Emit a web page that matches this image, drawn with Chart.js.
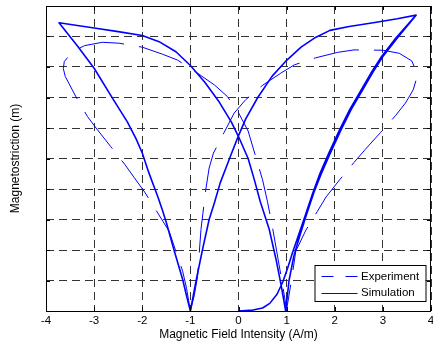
<!DOCTYPE html>
<html><head><meta charset="utf-8">
<script src="https://cdn.jsdelivr.net/npm/chart.js@4.4.1/dist/chart.umd.min.js"></script>
<style>html,body{margin:0;padding:0;background:#fff;overflow:hidden}#wrap{width:433px;height:347px;position:relative}</style>
</head><body><div id="wrap"><canvas id="c" width="433" height="347"></canvas></div>
<script>
// ---- tick labels ----
const xTickValues = [-4, -3, -2, -1, 0, 1, 2, 3, 4];
const xTickLabels = ['-4', '-3', '-2', '-1', '0', '1', '2', '3', '4'];
const seriesLabels = ['Experiment', 'Simulation'];

// ---- Simulation (solid) : field H (A/m) and strain (arbitrary units 0..10) ----
const simVirginH = [0, 0.3, 0.5, 0.65, 0.8, 0.92, 1.02, 1.12, 1.25, 1.39, 1.54, 1.69, 1.87, 2.1, 2.31, 2.55, 2.77, 2.97, 3.27, 3.69];
const simVirginS = [0, 0.03, 0.1, 0.25, 0.55, 0.95, 1.4, 1.9, 2.5, 3.15, 3.85, 4.5, 5.15, 5.94, 6.6, 7.25, 7.85, 8.34, 8.95, 9.7];
const simDownH = [3.69, 3.3, 2.8, 2.3, 1.9, 1.6, 1.3, 1.0, 0.7, 0.4, 0.15, 0, -0.15, -0.38, -0.5, -0.61, -0.75, -0.88, -1.0];
const simDownS = [9.7, 9.58, 9.45, 9.33, 9.2, 8.97, 8.65, 8.22, 7.7, 7.0, 6.3, 5.75, 5.15, 4.2, 3.55, 3.0, 2.0, 1.0, 0];
const simLeftUpH = [-1.0, -1.08, -1.16, -1.34, -1.5, -1.58, -1.68, -1.86, -2.0, -2.13, -2.31, -2.62, -3.0, -3.35, -3.73];
const simLeftUpS = [0, 0.5, 1.03, 2.0, 2.9, 3.3, 3.76, 4.52, 5.18, 5.65, 6.2, 6.98, 7.96, 8.7, 9.45];
const simUpH = [-3.73, -3.0, -2.5, -2.0, -1.65, -1.3, -1.0, -0.7, -0.4, -0.15, 0, 0.2, 0.33, 0.45, 0.64, 0.78, 0.88, 0.98];
const simUpS = [9.45, 9.28, 9.16, 9.03, 8.83, 8.5, 8.05, 7.5, 6.85, 6.2, 5.72, 5.0, 4.3, 3.6, 2.67, 1.69, 0.9, 0];
const simRightUpH = [0.98, 1.05, 1.15, 1.28, 1.42, 1.57, 1.72, 1.9, 2.13, 2.34, 2.58, 2.8, 3.0, 3.3, 3.69];
const simRightUpS = [0, 1.0, 1.8, 2.5, 3.2, 3.9, 4.5, 5.15, 5.94, 6.6, 7.25, 7.85, 8.34, 8.95, 9.7];

// ---- Experiment (dashed) ----
const expLeftH = [-1.0, -1.08, -1.16, -1.3, -1.44, -1.72, -1.95, -2.17, -2.36, -2.66, -2.96, -3.14, -3.37, -3.6, -3.64, -3.62, -3.45, -3.2, -2.83, -2.48, -2.0, -1.58, -1.27, -0.9, -0.5, -0.23, 0.0, 0.2, 0.35, 0.5, 0.6, 0.7, 0.8, 0.9, 1.0];
const expLeftS = [0, 0.75, 1.3, 1.95, 2.61, 3.32, 3.9, 4.38, 4.8, 5.4, 6.0, 6.38, 7.0, 7.69, 7.95, 8.18, 8.5, 8.7, 8.81, 8.78, 8.65, 8.42, 8.23, 7.85, 7.41, 7.03, 6.5, 5.9, 5.1, 4.3, 3.6, 2.8, 1.9, 1.0, 0.05];
const expRightH = [1.0, 1.1, 1.19, 1.4, 1.64, 1.82, 2.1, 2.4, 2.63, 2.95, 3.26, 3.47, 3.63, 3.7, 3.67, 3.6, 3.34, 3.0, 2.4, 2.06, 1.6, 1.16, 0.88, 0.5, 0.15, -0.09, -0.3, -0.52, -0.61, -0.68, -0.74, -0.78, -0.82, -0.85, -0.92, -1.0];
const expRightS = [0.05, 1.0, 1.96, 2.65, 3.27, 3.74, 4.3, 4.87, 5.29, 5.85, 6.4, 6.82, 7.25, 7.63, 7.95, 8.2, 8.45, 8.55, 8.56, 8.48, 8.3, 8.07, 7.8, 7.4, 6.93, 6.49, 5.85, 5.18, 4.69, 3.98, 3.2, 2.67, 1.8, 1.14, 0.5, 0];

function pts(hs, ss) { return hs.map((h, i) => ({ x: h, y: ss[i] })); }
const simPoints = [].concat(
  pts(simVirginH, simVirginS), pts(simDownH, simDownS), pts(simLeftUpH, simLeftUpS),
  pts(simUpH, simUpS), pts(simRightUpH, simRightUpS));
const expPoints = [].concat(pts(expLeftH, expLeftS), pts(expRightH, expRightS));

const FONT = "'Liberation Sans', Arial, Helvetica, sans-serif";
const BLUE = '#0000ff';

const framePlugin = {
  id: 'frame',
  afterDatasetsDraw(chart) {
    const { ctx, chartArea: a, scales: { x, y } } = chart;
    ctx.save();
    ctx.strokeStyle = '#000';
    ctx.lineWidth = 1;
    ctx.setLineDash([]);
    ctx.beginPath();
    ctx.rect(a.left + 0.5, a.top + 0.5, a.right - a.left - 1, a.bottom - a.top);
    ctx.stroke();
    ctx.beginPath();
    xTickValues.forEach(v => {
      const p = Math.round(x.getPixelForValue(v)) + 0.5;
      ctx.moveTo(p, a.bottom); ctx.lineTo(p, a.bottom - 4);
      ctx.moveTo(p, a.top); ctx.lineTo(p, a.top + 4);
    });
    for (let v = 1; v < 10; v++) {
      const p = Math.round(y.getPixelForValue(v)) + 0.5;
      ctx.moveTo(a.left, p); ctx.lineTo(a.left + 4, p);
      ctx.moveTo(a.right, p); ctx.lineTo(a.right - 4, p);
    }
    ctx.stroke();
    ctx.restore();
  },
  afterDraw(chart) {
    const { ctx, chartArea: a } = chart;
    const ds = chart.data.datasets;
    const bx = a.right - 116.5, by = a.bottom - 46, bw = 111, bh = 36;
    ctx.save();
    ctx.fillStyle = '#fff';
    ctx.fillRect(bx, by, bw, bh);
    ctx.strokeStyle = '#000';
    ctx.lineWidth = 1;
    ctx.strokeRect(bx + 0.5, by + 0.5, bw, bh);
    const rows = [by + 11, by + 27.5];
    ds.forEach((d, i) => {
      const yy = Math.round(rows[i]) + 0.5;
      ctx.strokeStyle = d.borderColor;
      ctx.lineWidth = 1;
      ctx.setLineDash(d.legendDash || []);
      ctx.beginPath();
      ctx.moveTo(bx + 7, yy); ctx.lineTo(bx + 43, yy);
      ctx.stroke();
      ctx.setLineDash([]);
      ctx.fillStyle = '#000';
      ctx.font = '11.5px ' + FONT;
      ctx.textBaseline = 'middle';
      ctx.textAlign = 'left';
      ctx.fillText(d.label, bx + 46.5, rows[i] + 0.5);
    });
    ctx.restore();
  }
};

new Chart(document.getElementById('c'), {
  type: 'scatter',
  data: {
    datasets: [
      { label: seriesLabels[0], data: expPoints, showLine: true, borderColor: BLUE, borderWidth: 1,
        borderDash: [46, 15], legendDash: [12, 12], pointRadius: 0, tension: 0, fill: false, order: 1,
        borderJoinStyle: 'round' },
      { label: seriesLabels[1], data: simPoints, showLine: true, borderColor: BLUE, borderWidth: 1.6,
        pointRadius: 0, tension: 0, fill: false, order: 0, borderJoinStyle: 'round' }
    ]
  },
  options: {
    responsive: false,
    animation: false,
    devicePixelRatio: 1,
    layout: { padding: { top: 6, right: 2, left: 0, bottom: 0 } },
    plugins: { legend: { display: false }, tooltip: { enabled: false } },
    scales: {
      x: {
        type: 'linear', min: -4, max: 4,
        ticks: { stepSize: 1, padding: 3, color: '#000', font: { family: FONT, size: 11.5 },
          callback: (v) => { const i = xTickValues.indexOf(v); return i >= 0 ? xTickLabels[i] : ''; },
          maxRotation: 0 },
        grid: { color: '#333', lineWidth: 1, drawTicks: false },
        border: { display: false, dash: [8, 5] },
        title: { display: true, text: 'Magnetic Field Intensity (A/m)', color: '#000',
          font: { family: FONT, size: 12 }, padding: { top: 0, bottom: 5 } },
        afterFit(s) { s.height = 36; s.paddingLeft = 0; s.paddingRight = 0; }
      },
      y: {
        type: 'linear', min: 0, max: 10,
        ticks: { stepSize: 1, display: false },
        grid: { color: '#333', lineWidth: 1, drawTicks: false },
        border: { display: false, dash: [8, 5] },
        title: { display: true, text: 'Magnetostriction (m)', color: '#000',
          font: { family: FONT, size: 12 }, padding: { top: 8, bottom: 0 } },
        afterFit(s) { s.width = 46; s.paddingTop = 0; s.paddingBottom = 0; }
      }
    }
  },
  plugins: [framePlugin]
});
</script></body></html>
